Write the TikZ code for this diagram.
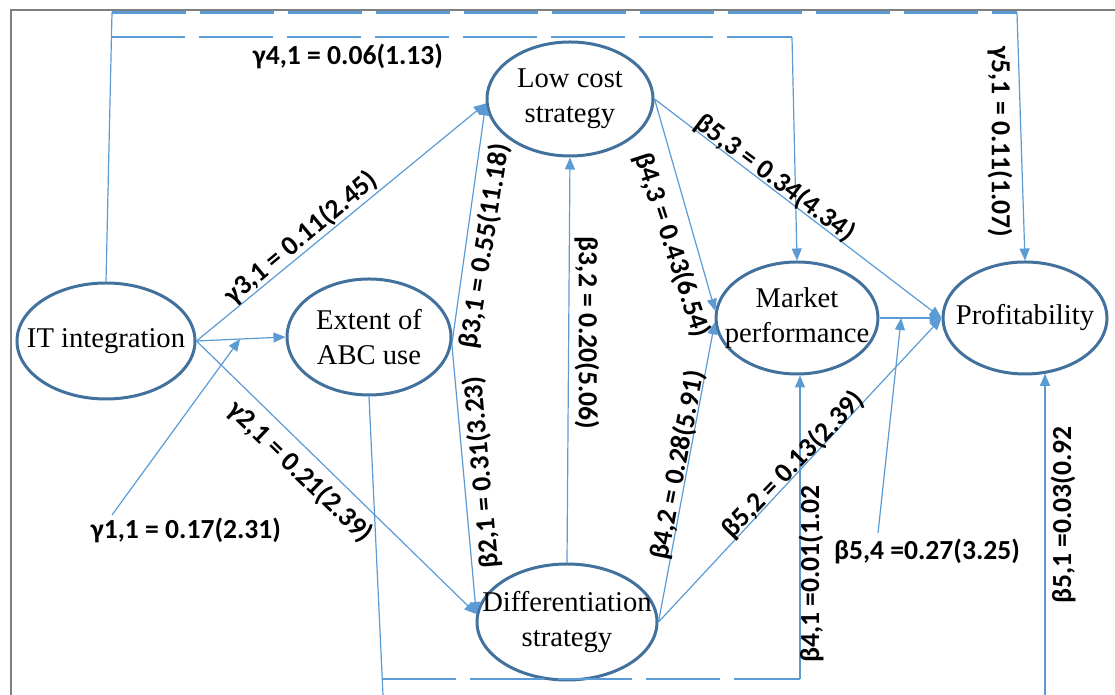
\documentclass[tikz,border=0pt]{standalone}
\usepackage{fontspec}
\setmainfont{Liberation Serif}
\newfontfamily\coeffont{Carlito}
\usepackage{xcolor}
\definecolor{rim}{HTML}{41719C}
\definecolor{wire}{HTML}{5B9BD5}
\definecolor{frame}{HTML}{7F7F7F}
\usetikzlibrary{shapes.geometric,arrows.meta,calc}

\begin{document}
\begin{tikzpicture}[x=0.5pt,y=0.5pt,
  var/.style={ellipse,draw=rim,line width=1.5pt,inner sep=0pt},
  vartxt/.style={font=\fontsize{14.3}{17.5}\selectfont,align=center,inner sep=0pt},
  coef/.style={font=\coeffont\bfseries\fontsize{13.8}{16}\selectfont,inner sep=0pt},
  link/.style={draw=wire,line width=0.6pt},
  arr/.style={link,-{Triangle[length=6pt,width=5pt]}},
  longdash/.style={draw=wire,line width=1.1pt,dash pattern=on 37pt off 7pt}]
  \useasboundingbox (0,0) rectangle (1115,695);
  \draw[frame,line width=1pt] (11,0) -- (11,685) -- (1115,685);
  % constructs
  \node[var,minimum width=89pt,minimum height=58pt,label={[vartxt]center:IT integration}] (it) at (106,354) {};
  \node[var,minimum width=82pt,minimum height=58pt,label={[vartxt]center:Extent of\\ABC use}] (abc) at (369,358) {};
  \node[var,minimum width=83pt,minimum height=57pt,label={[vartxt]center:Low cost\\strategy}] (low) at (570,596) {};
  \node[var,minimum width=90pt,minimum height=58pt,label={[vartxt]center:Differentiation\\strategy}] (diff) at (567,73) {};
  \node[var,minimum width=81pt,minimum height=56pt,label={[vartxt]center:Market\\performance}] (mkt) at (797,377) {};
  \node[var,minimum width=82pt,minimum height=56pt,label={[vartxt]center:Profitability}] (prof) at (1025,377) {};
  % direct paths
  \foreach \p/\q in {it.east/low.183,it.east/abc.west,it.east/diff.175,abc.-5/low.183,abc.-5/diff.175,
    diff.north/low.south,low.east/mkt.175,diff.east/mkt.183,low.east/prof.west,diff.east/prof.west,mkt.east/prof.west}
    \draw[arr] (\p) -- (\q);
  % paths onto paths
  \coordinate (g11s) at (112,180);
  \draw[arr] (g11s) -- ($(it.east)!0.49!(abc.west)$);
  \coordinate (b54s) at (878,162);
  \draw[arr] (b54s) -- ($(mkt.east)!0.35!(prof.west)$);
  % routed paths
  \coordinate (t1l) at (112,682.5);
  \coordinate (t1r) at (1017,682.5);
  \coordinate (t2l) at (111,658);
  \coordinate (t2r) at (792,658);
  \draw[link] (it.north) -- (t1l);
  \draw[longdash] (t1l) -- (t1r);
  \draw[longdash] (t2l) -- (t2r);
  \draw[arr] (t1r) -- (prof.north);
  \draw[arr] (t2r) -- (mkt.north);
  \coordinate (bl) at (382,16);
  \coordinate (br) at (800,16);
  \coordinate (abcout) at (383,0);
  \coordinate (profin) at (1045,0);
  \draw[link] (abc.south) -- (abcout);
  \draw[longdash] (bl) -- (br);
  \draw[arr] (br) -- (br |- mkt.south);
  \draw[arr] (profin) -- (profin |- prof.-70);
  % coefficients
  \node[coef] (g41) at (348,639) {γ4,1 = 0.06(1.13)};
  \node[coef,rotate=-90] (g51) at (1000,553) {γ5,1 = 0.11(1.07)};
  \node[coef,rotate=40] (g31) at (301,457) {γ3,1 = 0.11(2.45)};
  \node[coef,rotate=-44] (g21) at (300,223) {γ2,1 = 0.21(2.39)};
  \node[coef] (g11) at (186,165) {γ1,1 = 0.17(2.31)};
  \node[coef,rotate=81] (b31) at (485,449) {β3,1 = 0.55(11.18)};
  \node[coef,rotate=95] (b21) at (482,223) {β2,1 = 0.31(3.23)};
  \node[coef,rotate=-90] (b32) at (587,362) {β3,2 = 0.20(5.06)};
  \node[coef,rotate=-72] (b43) at (672,450) {β4,3 = 0.43(6.54)};
  \node[coef,rotate=-37] (b53) at (775,517) {β5,3 = 0.34(4.34)};
  \node[coef,rotate=46] (b52) at (793,230) {β5,2 = 0.13(2.39)};
  \node[coef,rotate=79] (b42) at (678,230) {β4,2 = 0.28(5.91)};
  \node[coef,rotate=90] (b41) at (811,121) {β4,1 =0.01(1.02};
  \node[coef] (b54) at (927,144) {β5,4 =0.27(3.25)};
  \node[coef,rotate=90] (b51) at (1063,180) {β5,1 =0.03(0.92};
\end{tikzpicture}
\end{document}
